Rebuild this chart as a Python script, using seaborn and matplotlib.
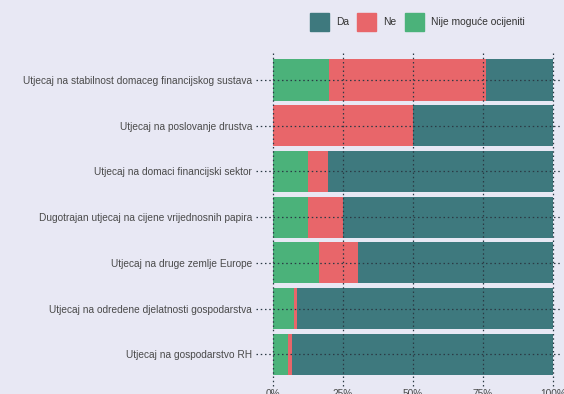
import numpy as np
import pandas as pd
import matplotlib
matplotlib.use("Agg")
import matplotlib.pyplot as plt
import matplotlib.transforms as mtransforms
from matplotlib.patches import Patch
import seaborn as sns

categories = [
    "Utjecaj na stabilnost domaceg financijskog sustava",
    "Utjecaj na poslovanje drustva",
    "Utjecaj na domaci financijski sektor",
    "Dugotrajan utjecaj na cijene vrijednosnih papira",
    "Utjecaj na druge zemlje Europe",
    "Utjecaj na odredene djelatnosti gospodarstva",
    "Utjecaj na gospodarstvo RH",
]
nije = [0.200, 0.000, 0.124, 0.124, 0.165, 0.074, 0.055]
ne = [0.560, 0.500, 0.071, 0.126, 0.138, 0.013, 0.014]
da = [1 - a - b for a, b in zip(nije, ne)]

df = pd.DataFrame({"cat": categories, "nije": nije, "ne": ne, "da": da})
df["ne_cum"] = df["nije"] + df["ne"]
df["da_cum"] = df["ne_cum"] + df["da"]

c_da = "#3e797e"
c_ne = "#e8666a"
c_nije = "#4bb27a"
bg = "#e8e8f4"
grid_c = "#2b3a45"

sns.set_theme(style="white", rc={"axes.facecolor": bg, "figure.facecolor": bg})
plt.rcParams["font.family"] = ["Liberation Sans", "DejaVu Sans"]

fig = plt.figure(figsize=(5.64, 3.94), dpi=100)
ax = fig.add_axes([0.484, 0.031, 0.496, 0.83])

sns.barplot(data=df, x="da_cum", y="cat", orient="h", color=c_da, width=0.9, saturation=1, ax=ax, linewidth=0)
sns.barplot(data=df, x="ne_cum", y="cat", orient="h", color=c_ne, width=0.9, saturation=1, ax=ax, linewidth=0)
sns.barplot(data=df, x="nije", y="cat", orient="h", color=c_nije, width=0.9, saturation=1, ax=ax, linewidth=0)

ax.set_xlim(0, 1)
ax.set_ylim(6.6, -0.55)
ax.set_xticks([0, 0.25, 0.5, 0.75, 1.0])
ax.set_xticklabels(["0%", "25%", "50%", "75%", "100%"])
ax.set_xlabel("")
ax.set_ylabel("")
for s in ax.spines.values():
    s.set_visible(False)

ax.tick_params(axis="y", length=0, pad=15, labelsize=7.3, labelcolor="#4a4a4a")
ax.tick_params(axis="x", length=0, pad=5, labelsize=7.3, labelcolor="#4a4a4a")

# dotted grid drawn over the bars, extended a little beyond the panel
tr_y = mtransforms.blended_transform_factory(ax.transAxes, ax.transData)
ax.hlines(range(len(categories)), -0.062, 1.025, transform=tr_y, colors=grid_c,
          linestyles=(0, (1.2, 2.2)), linewidth=0.9, clip_on=False, zorder=5)
tr_x = mtransforms.blended_transform_factory(ax.transData, ax.transAxes)
ax.vlines([0, 0.25, 0.5, 0.75, 1.0], -0.012, 1.008, transform=tr_x, colors=grid_c,
          linestyles=(0, (1.2, 2.2)), linewidth=0.9, clip_on=False, zorder=5)

handles = [Patch(color=c_da, label="Da"), Patch(color=c_ne, label="Ne"),
           Patch(color=c_nije, label="Nije moguće ocijeniti")]
fig.legend(handles=handles, loc="center", bbox_to_anchor=(0.74, 0.944), ncol=3,
           frameon=False, fontsize=7.4, handlelength=1.85, handleheight=2.4,
           handletextpad=0.7, columnspacing=0.8, labelcolor="#333333")

fig.savefig("out.png", dpi=100, facecolor=bg)
